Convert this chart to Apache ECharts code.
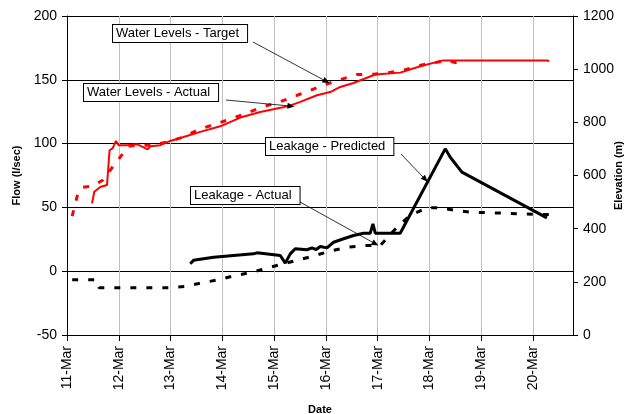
<!DOCTYPE html>
<html>
<head>
<meta charset="utf-8">
<script src="https://cdn.jsdelivr.net/npm/echarts@6/dist/echarts.min.js"></script>
<style>
  html, body { margin: 0; padding: 0; background: #fff; }
  #chart { width: 631px; height: 414px; }
</style>
</head>
<body>
<div id="chart"></div>
<script>
// x values are days after 11-Mar 00:00
const dayLabels = ['11-Mar', '12-Mar', '13-Mar', '14-Mar', '15-Mar', '16-Mar', '17-Mar', '18-Mar', '19-Mar', '20-Mar'];

// Water levels (right axis, elevation m)
const levelActualDay = [0.483, 0.527, 0.643, 0.772, 0.80, 0.822, 0.880, 0.946, 0.996, 1.158, 1.351, 1.556, 1.608, 1.801, 1.994, 2.251, 2.573, 2.959, 3.346, 3.732, 4.054, 4.278, 4.504, 4.826, 5.083, 5.276, 5.533, 5.952, 6.434, 6.821, 7.264, 9.266, 9.311];
const levelActualElev = [495, 539, 557, 564, 568, 695, 702, 730, 714, 714, 718, 698, 710, 714, 730, 745, 764, 785, 818, 839, 852, 861, 877, 902, 914, 933, 948, 980, 987, 1011, 1033, 1033, 1030];

const levelTargetDay = [0.10, 0.22, 0.30, 0.49, 0.687, 0.880, 1.081, 1.183, 1.338, 1.641, 1.931, 2.251, 2.541, 3.153, 3.475, 3.764, 4.054, 4.664, 4.954, 5.276, 5.598, 5.913, 6.203, 6.531, 6.853, 7.143, 7.336, 7.496, 7.650];
const levelTargetElev = [447, 540, 556, 560, 582, 632, 683, 710, 714, 714, 726, 745, 773, 812, 835, 858, 873, 918, 940, 961, 980, 981, 987, 998, 1016, 1026, 1033, 1025, 1033];

// Leakage (left axis, l/sec)
const leakPredDay = [2.380, 2.444, 2.830, 3.216, 3.602, 3.668, 4.118, 4.214, 4.311, 4.407, 4.633, 4.730, 4.81, 4.890, 5.019, 5.147, 5.340, 5.533, 5.726, 5.855, 5.907, 5.952, 6.434, 7.303, 7.400, 7.625, 9.266];
const leakPredFlow = [5.8, 8.5, 11.0, 12.3, 13.6, 14.4, 12.3, 6.3, 13.6, 17.6, 16.8, 18.3, 17.0, 19.4, 18.3, 22.7, 25.4, 28.0, 29.8, 29.8, 37.1, 29.8, 29.8, 95.9, 89.3, 77.6, 41.8];

const leakActualDay = [0.10, 0.57, 0.62, 1.961, 2.284, 2.606, 2.927, 3.249, 3.571, 3.861, 4.181, 4.471, 4.793, 5.116, 5.436, 5.759, 6.048, 6.402, 6.627, 6.950, 7.207, 7.496, 7.819, 8.429, 8.751, 9.459];
const leakActualFlow = [-6.7, -6.7, -13.0, -13.0, -12.0, -9.1, -6.7, -3.4, -0.8, 2.4, 5.8, 8.9, 12.3, 16.2, 18.8, 20.1, 20.1, 35.8, 43.7, 49.7, 49.7, 47.6, 46.2, 45.5, 45.0, 44.2];

const pairs = (xs, ys) => xs.map((x, i) => [x, ys[i]]);

const FONT = 'Liberation Sans, Arial, sans-serif';

const chart = echarts.init(document.getElementById('chart'));

// arrow from a label box (pixel) to a point on the series (data coords)
function arrow(from, to) {
    return {
        silent: true,
        animation: false,
        symbol: ['none', 'triangle'],
        symbolSize: [6, 7],
        label: { show: false },
        lineStyle: { color: '#000', width: 0.8, type: 'solid' },
        emphasis: { disabled: true },
        data: [[{ x: from[0], y: from[1] }, { coord: to }]]
    };
}

function box(text, left, top) {
    return {
        type: 'text',
        left: left,
        top: top,
        z: 100,
        style: {
            text: text,
            font: '13px ' + FONT,
            fill: '#000',
            backgroundColor: '#fff',
            borderColor: '#000',
            borderWidth: 1,
            padding: [2, 8, 2, 3]
        }
    };
}

const option = {
    animation: false,
    grid: { left: 67, right: 58, top: 16, bottom: 79, outerBoundsMode: 'none', containLabel: false },
    xAxis: {
        type: 'value',
        min: 0,
        max: 9.77,
        interval: 1,
        name: 'Date',
        nameLocation: 'middle',
        nameGap: 69,
        nameMoveOverlap: false,
        nameTextStyle: { fontFamily: FONT, fontWeight: 'bold', fontSize: 11, color: '#000' },
        axisLine: { onZero: false, lineStyle: { color: '#000', width: 1 } },
        axisTick: { show: true, length: 6, lineStyle: { color: '#000' } },
        axisLabel: {
            rotate: 90,
            margin: 11,
            fontFamily: FONT,
            fontSize: 14,
            color: '#000',
            showMaxLabel: false,
            formatter: v => dayLabels[Math.round(v)] || ''
        },
        splitLine: { show: true, lineStyle: { color: '#c0c0c0', width: 1 } }
    },
    yAxis: [
        {
            type: 'value',
            min: -50,
            max: 200,
            interval: 50,
            name: 'Flow (l/sec)',
            nameLocation: 'middle',
            nameGap: 45,
            nameRotate: 90,
            nameMoveOverlap: false,
            nameTextStyle: { fontFamily: FONT, fontWeight: 'bold', fontSize: 11, color: '#000' },
            axisLine: { show: true, lineStyle: { color: '#000' } },
            axisTick: { show: true, length: 5, lineStyle: { color: '#000' } },
            axisLabel: { fontFamily: FONT, fontSize: 14, color: '#000', margin: 10 },
            splitLine: {
                show: true,
                lineStyle: {
                    width: 1,
                    color: v => v === 0 ? '#000' : '#808080'
                }
            }
        },
        {
            type: 'value',
            min: 0,
            max: 1200,
            interval: 200,
            name: 'Elevation (m)',
            nameLocation: 'middle',
            nameGap: 40,
            nameRotate: 90,
            nameMoveOverlap: false,
            nameTextStyle: { fontFamily: FONT, fontWeight: 'bold', fontSize: 11, color: '#000' },
            axisLine: { show: true, lineStyle: { color: '#000' } },
            axisTick: { show: true, length: 5, lineStyle: { color: '#000' } },
            axisLabel: { fontFamily: FONT, fontSize: 14, color: '#000', margin: 10, formatter: v => String(v) },
            splitLine: { show: false }
        }
    ],
    series: [
        {
            name: 'Water Levels - Target',
            type: 'line',
            yAxisIndex: 1,
            data: pairs(levelTargetDay, levelTargetElev),
            showSymbol: false,
            lineStyle: { color: '#ff0000', width: 3, type: [6, 10] },
            markLine: arrow([253, 42], [5.007, 954])
        },
        {
            name: 'Water Levels - Actual',
            type: 'line',
            yAxisIndex: 1,
            data: pairs(levelActualDay, levelActualElev),
            showSymbol: false,
            lineStyle: { color: '#ff0000', width: 2 },
            markLine: arrow([226, 100], [4.324, 861])
        },
        {
            name: 'Leakage - Predicted',
            type: 'line',
            yAxisIndex: 0,
            data: pairs(leakPredDay, leakPredFlow),
            showSymbol: false,
            lineStyle: { color: '#000', width: 3 },
            markLine: arrow([401, 154], [6.917, 72])
        },
        {
            name: 'Leakage - Actual',
            type: 'line',
            yAxisIndex: 0,
            data: pairs(leakActualDay, leakActualFlow),
            showSymbol: false,
            lineStyle: { color: '#000', width: 3, type: [6, 10] },
            markLine: arrow([300, 202], [5.953, 21.5])
        }
    ],
    graphic: [
        box('Water Levels - Target', 112, 24),
        box('Water Levels - Actual', 83, 83),
        box('Leakage - Predicted', 265, 137),
        box('Leakage - Actual', 190, 186)
    ]
};

chart.setOption(option);
</script>
</body>
</html>
